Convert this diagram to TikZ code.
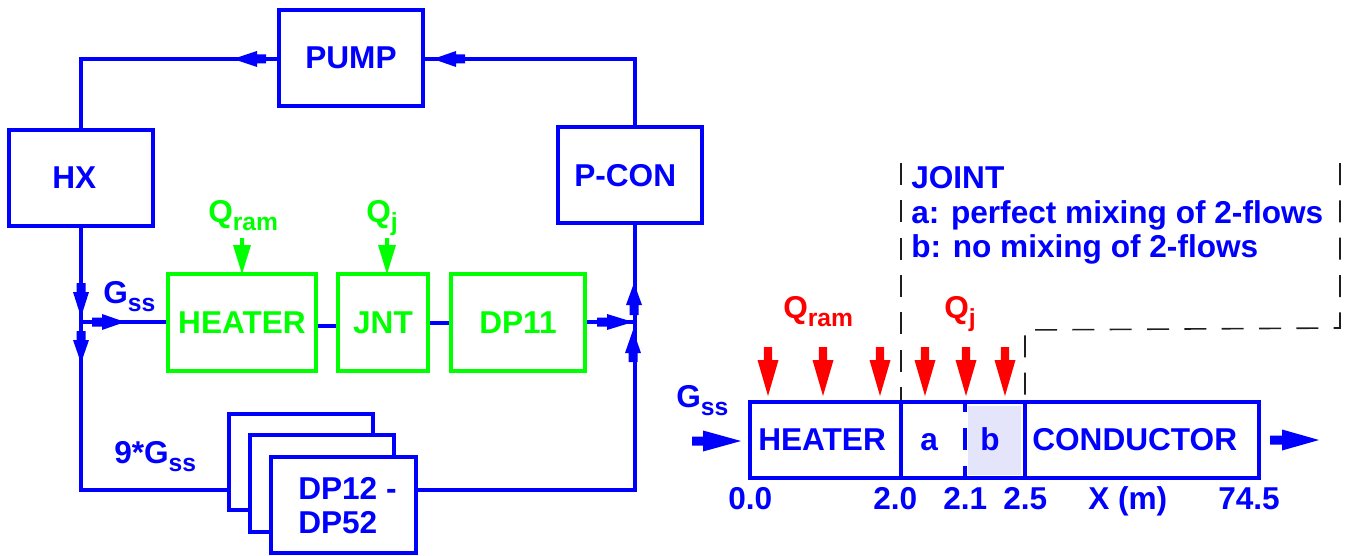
\documentclass[tikz,border=0pt]{standalone}
\usepackage{fontspec}
\setmainfont{Liberation Sans}
\definecolor{fb}{RGB}{0,0,255}
\definecolor{fg}{RGB}{0,255,0}
\definecolor{fr}{RGB}{255,0,0}
\definecolor{shade}{RGB}{228,228,250}
\definecolor{dashk}{RGB}{30,30,30}
\newcommand\sbs[1]{\raisebox{-6.5pt}{\fontsize{18.5}{18}\selectfont #1}}
% tip coordinate, screen angle, total length, head length, head half width, shaft half width, colour
\newcommand\barrow[7]{%
  \begin{scope}[shift={#1},rotate=#2]
    \fill[#7] (0,0) -- (-#4,-#5) -- (-#4,-#6) -- (-#3,-#6) -- (-#3,#6) -- (-#4,#6) -- (-#4,#5) -- cycle;
  \end{scope}}
\newcommand\flowarrow[4]{\barrow{#1}{#2}{#3}{#4}{8}{4.5}{fb}}
\tikzset{
  fbox/.style={draw=fb,line width=2.3pt,fill=white,inner sep=0pt,text=fb,font=\bfseries\fontsize{23.7}{26}\selectfont},
  gbox/.style={fbox,draw=fg,text=fg},
  wh/.style 2 args={minimum width=#1*0.75pt,minimum height=#2*0.75pt},
  flow/.style={draw=fb,line width=2.3pt,line join=miter},
  txt/.style={inner sep=0pt,anchor=base west,text=fb,font=\bfseries\fontsize{23.7}{26}\selectfont},
  gtxt/.style={txt,text=fg},
  rtxt/.style={txt,text=fr},
  jdash/.style={draw=dashk,line width=1.2pt,dash pattern=on 16.5pt off 11.5pt},
}
\begin{document}
\begin{tikzpicture}[x=0.75pt,y=-0.75pt]
\useasboundingbox (0,0) rectangle (1351,556);
% left diagram
\node[fbox,wh={144}{96}] (pump) at (351,58) {PUMP};
\node[fbox,wh={144}{96}] (hx) at (81,178) {};
\node[txt] (hxt) at (52,188) {HX};
\node[fbox,wh={144}{96}] (pcon) at (630,175) {};
\node[txt] (pcont) at (574,186) {P-CON};
\node[gbox,wh={148}{97}] (heater) at (242,322.5) {HEATER};
\node[gbox,wh={90}{97}] (jnt) at (383,322.5) {JNT};
\node[gbox,wh={134}{97}] (dp11) at (518,322.5) {DP11};
\node[fbox,wh={144}{96}] (s1) at (301,462) {};
\node[fbox,wh={144}{97}] (s2) at (322,483.5) {};
\node[fbox,wh={145}{96}] (s3) at (343.5,505) {};
\node[txt] (s3a) at (298,499) {DP12 -};
\node[txt] (s3b) at (298,533) {DP52};
\coordinate (tl) at (81,59);
\coordinate (tr) at (635,59);
\coordinate (jl) at (81,322);
\coordinate (jr) at (634,322);
\coordinate (bl) at (81,490);
\coordinate (br) at (635,490);
\draw[flow] (pump.west |- tl) -- (tl) -- (tl |- hx.north);
\draw[flow] (tr |- pcon.north) -- (tr) -- (pump.east |- tr);
\draw[flow] (tl |- hx.south) -- (bl) -- (s1.west |- bl);
\draw[flow] (jl) -- (heater.west |- jl);
\draw[flow] (heater.east |- 0,326) -- (jnt.west |- 0,326);
\draw[flow] (jnt.east |- 0,323) -- (dp11.west |- 0,323);
\draw[flow] (dp11.east |- jr) -- (jr);
\draw[flow] (s3.east |- br) -- (br) -- (tr |- pcon.south);
\flowarrow{(233,59)}{180}{33}{24}
\flowarrow{(433,59)}{180}{32}{23}
\flowarrow{(81,317)}{-90}{34}{25}
\flowarrow{(81,363)}{-90}{32}{23}
\flowarrow{(125,322)}{0}{33}{23}
\flowarrow{(633,322)}{0}{36}{26}
\flowarrow{(634,283)}{90}{32}{22}
\flowarrow{(633,330)}{90}{32}{23}
\node[txt] (g1) at (103,303) {G\sbs{ss}};
\node[txt] (g9) at (114,463) {9*G\sbs{ss}};
\node[gtxt] (qr1) at (208,222) {Q\sbs{ram}};
\node[gtxt] (qj1) at (366,222) {Q\sbs{j}};
\barrow{(heater.north |- 0,274)}{-90}{36}{29}{9}{2}{fg}
\barrow{(387,274)}{-90}{36}{29}{9}{2}{fg}
% right diagram
\node[fbox,wh={509}{76}] (bar) at (1004.5,440) {};
\node[fill=shade,draw=none,inner sep=0pt,minimum width=53*0.75pt,minimum height=69*0.75pt] (bshade) at (994.5,440.5) {};
\coordinate (d1) at (901,440);
\coordinate (d2) at (965,440);
\coordinate (d3) at (1025,440);
\draw[flow] (d1 |- bar.north) -- (d1 |- bar.south);
\draw[flow] (d3 |- bar.north) -- (d3 |- bar.south);
\draw[flow,dash pattern=on 16.5pt off 12pt,dash phase=7.5pt] (d2 |- bar.north) -- (d2 |- bar.south);
\coordinate (jt) at (901,163);
\coordinate (jb) at (901,400);
\coordinate (kt) at (1340,163);
\coordinate (kc) at (1340,328);
\coordinate (kd) at (1025,330);
\coordinate (ke) at (1025,400);
\draw[jdash] (jt) -- (jb);
\draw[jdash] (kt) -- (kc) -- (kd) -- (ke);
\node[txt] (j1) at (911,188) {JOINT};
\node[txt] (j2) at (911,223) {a: perfect mixing of 2-flows};
\node[txt] (j3) at (911,257) {b: no mixing of 2-flows};
\node[rtxt] (qr2) at (783,318) {Q\sbs{ram}};
\node[rtxt] (qj2) at (944,318) {Q\sbs{j}};
\foreach \n/\x in {a1/768,a2/823,a3/880,a4/925,a5/966,a6/1005}{
  \coordinate (\n) at (\x,396);
  \barrow{(\n)}{-90}{49}{36}{10.5}{4.2}{fr}
}
\node[txt] (g2) at (676,407) {G\sbs{ss}};
\barrow{(741,441)}{0}{49}{38}{10.5}{4.5}{fb}
\barrow{(1319,440)}{0}{49}{37}{10.5}{4.5}{fb}
\node[txt] (hh) at (758,450) {HEATER};
\node[txt] (ta) at (920,450) {a};
\node[txt] (tb) at (980,450) {b};
\node[txt] (tc) at (1032,450) {CONDUCTOR};
\node[txt] (n0) at (728,509) {0.0};
\node[txt] (n1) at (873,509) {2.0};
\node[txt] (n2) at (943,509) {2.1};
\node[txt] (n3) at (1003,509) {2.5};
\node[txt] (nx) at (1088,509) {X (m)};
\node[txt] (n4) at (1218,509) {74.5};
\end{tikzpicture}
\end{document}
